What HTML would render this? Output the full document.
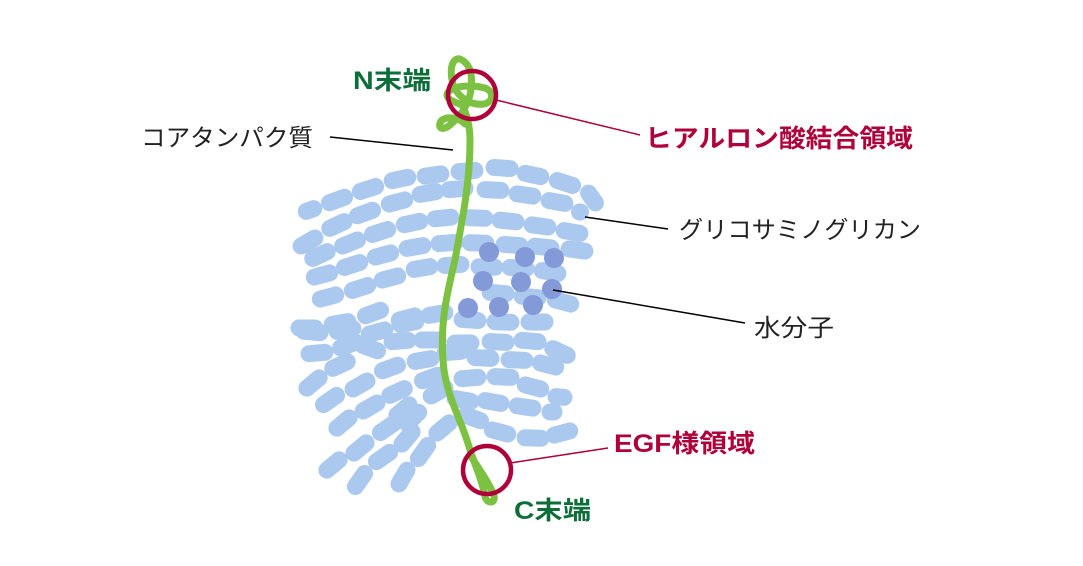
<!DOCTYPE html>
<html><head><meta charset="utf-8"><style>
html,body{margin:0;padding:0;background:#fff;}
svg{display:block}
text{font-family:"Liberation Sans","Noto Sans CJK JP",sans-serif;}
</style></head><body>
<svg width="1083" height="566" viewBox="0 0 1083 566" xmlns="http://www.w3.org/2000/svg">
<g stroke="#abc9ef" stroke-width="17" stroke-linecap="round" fill="none">
<line x1="-4" x2="4" transform="translate(310 210) rotate(-20)"/>
<line x1="-8" x2="8" transform="translate(337 200) rotate(-20)"/>
<line x1="-8" x2="8" transform="translate(368 189) rotate(-18)"/>
<line x1="-8" x2="8" transform="translate(400 179) rotate(-12)"/>
<line x1="-8" x2="8" transform="translate(433 175) rotate(-8)"/>
<line x1="-8" x2="8" transform="translate(467 171) rotate(-4)"/>
<line x1="-8" x2="8" transform="translate(502 168) rotate(4)"/>
<line x1="-8" x2="8" transform="translate(533 175) rotate(12)"/>
<line x1="-8" x2="8" transform="translate(565 183) rotate(18)"/>
<line x1="-6" x2="6" transform="translate(592 198) rotate(55)"/>
<line x1="-0.5" x2="0.5" transform="translate(580 212) rotate(0)"/>
<line x1="-8" x2="8" transform="translate(308 242) rotate(-30)"/>
<line x1="-8" x2="8" transform="translate(337 225) rotate(-25)"/>
<line x1="-8" x2="8" transform="translate(365 213) rotate(-20)"/>
<line x1="-8" x2="8" transform="translate(397 202) rotate(-15)"/>
<line x1="-8" x2="8" transform="translate(428 193) rotate(-10)"/>
<line x1="-8" x2="8" transform="translate(457 189) rotate(-5)"/>
<line x1="-8" x2="8" transform="translate(493 190) rotate(3)"/>
<line x1="-8" x2="8" transform="translate(525 195) rotate(8)"/>
<line x1="-8" x2="8" transform="translate(557 202) rotate(10)"/>
<line x1="-8" x2="8" transform="translate(320 255) rotate(-25)"/>
<line x1="-8" x2="8" transform="translate(350 243) rotate(-22)"/>
<line x1="-8" x2="8" transform="translate(380 232) rotate(-18)"/>
<line x1="-8" x2="8" transform="translate(412 223) rotate(-12)"/>
<line x1="-8" x2="8" transform="translate(443 218) rotate(-6)"/>
<line x1="-8" x2="8" transform="translate(477 218) rotate(2)"/>
<line x1="-8" x2="8" transform="translate(508 221) rotate(6)"/>
<line x1="-8" x2="8" transform="translate(540 226) rotate(8)"/>
<line x1="-8" x2="8" transform="translate(572 232) rotate(10)"/>
<line x1="-8" x2="8" transform="translate(322 275) rotate(-15)"/>
<line x1="-8" x2="8" transform="translate(352 265) rotate(-18)"/>
<line x1="-8" x2="8" transform="translate(383 255) rotate(-15)"/>
<line x1="-8" x2="8" transform="translate(415 247) rotate(-10)"/>
<line x1="-8" x2="8" transform="translate(447 243) rotate(-4)"/>
<line x1="-8" x2="8" transform="translate(478 243) rotate(2)"/>
<line x1="-8" x2="8" transform="translate(512 245) rotate(4)"/>
<line x1="-8" x2="8" transform="translate(543 247) rotate(6)"/>
<line x1="-8" x2="8" transform="translate(577 250) rotate(8)"/>
<line x1="-8" x2="8" transform="translate(328 297) rotate(-15)"/>
<line x1="-8" x2="8" transform="translate(360 288) rotate(-18)"/>
<line x1="-8" x2="8" transform="translate(390 278) rotate(-15)"/>
<line x1="-8" x2="8" transform="translate(422 268) rotate(-10)"/>
<line x1="-8" x2="8" transform="translate(453 265) rotate(-4)"/>
<line x1="-8" x2="8" transform="translate(487 267) rotate(2)"/>
<line x1="-8" x2="8" transform="translate(518 268) rotate(4)"/>
<line x1="-8" x2="8" transform="translate(550 272) rotate(10)"/>
<line x1="-8" x2="8" transform="translate(373 313) rotate(-20)"/>
<line x1="-8" x2="8" transform="translate(407 318) rotate(-15)"/>
<line x1="-8" x2="8" transform="translate(437 314) rotate(-10)"/>
<line x1="-8" x2="8" transform="translate(470 320) rotate(4)"/>
<line x1="-8" x2="8" transform="translate(503 322) rotate(2)"/>
<line x1="-8" x2="8" transform="translate(537 322) rotate(0)"/>
<line x1="-8" x2="8" transform="translate(498 293) rotate(5)"/>
<line x1="-8" x2="8" transform="translate(530 297) rotate(5)"/>
<line x1="-8" x2="8" transform="translate(563 302) rotate(15)"/>
<line x1="-8" x2="8" transform="translate(307 328) rotate(0)"/>
<line x1="-8" x2="8" transform="translate(340 323) rotate(-10)"/>
<line x1="-8" x2="8" transform="translate(312 332) rotate(5)"/>
<line x1="-8" x2="8" transform="translate(345 330) rotate(-10)"/>
<line x1="-8" x2="8" transform="translate(377 332) rotate(-15)"/>
<line x1="-8" x2="8" transform="translate(408 323) rotate(-10)"/>
<line x1="-8" x2="8" transform="translate(317 353) rotate(-5)"/>
<line x1="-8" x2="8" transform="translate(348 345) rotate(-20)"/>
<line x1="-8" x2="8" transform="translate(370 348) rotate(20)"/>
<line x1="-8" x2="8" transform="translate(400 341) rotate(-5)"/>
<line x1="-8" x2="8" transform="translate(430 340) rotate(0)"/>
<line x1="-8" x2="8" transform="translate(463 343) rotate(0)"/>
<line x1="-8" x2="8" transform="translate(498 342) rotate(3)"/>
<line x1="-8" x2="8" transform="translate(530 341) rotate(5)"/>
<line x1="-8" x2="8" transform="translate(560 352) rotate(25)"/>
<line x1="-8" x2="8" transform="translate(340 365) rotate(-25)"/>
<line x1="-8" x2="8" transform="translate(390 368) rotate(-20)"/>
<line x1="-8" x2="8" transform="translate(423 360) rotate(-10)"/>
<line x1="-8" x2="8" transform="translate(453 352) rotate(-5)"/>
<line x1="-8" x2="8" transform="translate(483 358) rotate(3)"/>
<line x1="-8" x2="8" transform="translate(517 360) rotate(3)"/>
<line x1="-8" x2="8" transform="translate(548 365) rotate(15)"/>
<line x1="-8" x2="8" transform="translate(313 383) rotate(-40)"/>
<line x1="-8" x2="8" transform="translate(360 385) rotate(-30)"/>
<line x1="-8" x2="8" transform="translate(397 392) rotate(-25)"/>
<line x1="-8" x2="8" transform="translate(430 378) rotate(-20)"/>
<line x1="-8" x2="8" transform="translate(470 378) rotate(-5)"/>
<line x1="-8" x2="8" transform="translate(503 377) rotate(3)"/>
<line x1="-8" x2="8" transform="translate(533 387) rotate(15)"/>
<line x1="-4" x2="4" transform="translate(560 397) rotate(5)"/>
<line x1="-8" x2="8" transform="translate(330 400) rotate(-35)"/>
<line x1="-8" x2="8" transform="translate(370 407) rotate(-30)"/>
<line x1="-8" x2="8" transform="translate(403 410) rotate(-40)"/>
<line x1="-8" x2="8" transform="translate(438 392) rotate(-30)"/>
<line x1="-8" x2="8" transform="translate(463 400) rotate(10)"/>
<line x1="-8" x2="8" transform="translate(493 402) rotate(10)"/>
<line x1="-8" x2="8" transform="translate(525 407) rotate(8)"/>
<line x1="-2" x2="2" transform="translate(552 412) rotate(0)"/>
<line x1="-8" x2="8" transform="translate(343 423) rotate(-40)"/>
<line x1="-8" x2="8" transform="translate(387 428) rotate(-35)"/>
<line x1="-8" x2="8" transform="translate(413 418) rotate(-45)"/>
<line x1="-8" x2="8" transform="translate(443 428) rotate(-40)"/>
<line x1="-8" x2="8" transform="translate(473 418) rotate(20)"/>
<line x1="-8" x2="8" transform="translate(500 432) rotate(15)"/>
<line x1="-8" x2="8" transform="translate(533 438) rotate(2)"/>
<line x1="-8" x2="8" transform="translate(562 433) rotate(-15)"/>
<line x1="-8" x2="8" transform="translate(333 465) rotate(-40)"/>
<line x1="-8" x2="8" transform="translate(360 448) rotate(-40)"/>
<line x1="-8" x2="8" transform="translate(383 457) rotate(-35)"/>
<line x1="-8" x2="8" transform="translate(407 438) rotate(-50)"/>
<line x1="-8" x2="8" transform="translate(423 452) rotate(-55)"/>
<line x1="-8" x2="8" transform="translate(360 480) rotate(-55)"/>
<line x1="-8" x2="8" transform="translate(403 477) rotate(-60)"/>
</g>
<g fill="#8399d8">
<circle cx="489" cy="252" r="10"/><circle cx="525" cy="257" r="10"/><circle cx="554" cy="258" r="10"/>
<circle cx="483" cy="281" r="10"/><circle cx="521" cy="282" r="10"/><circle cx="552" cy="289" r="10"/>
<circle cx="468" cy="308" r="10"/><circle cx="499" cy="307" r="10"/><circle cx="533" cy="305" r="10"/>
</g>
<g fill="none" stroke="#7dc142" stroke-width="7" stroke-linecap="round">
<path d="M472 458 C480 470 492 488 494 496 C496 504 486 504 485 496 C482 480 476 468 470 450 C462 420 445 395 443 360 C440 320 448 290 455 260 C462 220 470 185 470 140 C470 125 466 112 462 105 C455 102 447 100 447 95 C448 86 470 84 485 88 C495 92 493 102 484 104 C470 106 455 96 452 80 C449 62 456 56 462 60 C472 66 473 80 470 95 C466 110 458 118 450 125 C440 133 437 125 442 120 C448 116 460 118 465 124"/>
</g>
<g fill="none" stroke="#b0003a" stroke-width="4.5">
<circle cx="472" cy="95" r="24"/><circle cx="487" cy="470" r="24"/>
</g>
<g stroke="#b0003a" stroke-width="1.5">
<line x1="496" y1="100" x2="640" y2="135"/><line x1="510" y1="463" x2="608" y2="448"/>
</g>
<g stroke="#000" stroke-width="1.5">
<line x1="330" y1="137" x2="453" y2="150"/><line x1="585" y1="217" x2="668" y2="229"/><line x1="553" y1="290" x2="745" y2="323"/>
</g>
<g font-size="24" fill="#222">
<text x="141" y="146" textLength="172" lengthAdjust="spacingAndGlyphs">コアタンパク質</text>
<text x="679" y="238" textLength="242" lengthAdjust="spacingAndGlyphs">グリコサミノグリカン</text>
<text x="754" y="336" textLength="80" lengthAdjust="spacingAndGlyphs">水分子</text>
</g>
<g font-size="25" font-weight="bold" fill="#0d6e3a">
<text x="353" y="89" textLength="78" lengthAdjust="spacingAndGlyphs">N末端</text>
<text x="514" y="519" textLength="77" lengthAdjust="spacingAndGlyphs">C末端</text>
</g>
<g font-size="25" font-weight="bold" fill="#b0003a">
<text x="645" y="147" textLength="268" lengthAdjust="spacingAndGlyphs">ヒアルロン酸結合領域</text>
<text x="614" y="452" textLength="141" lengthAdjust="spacingAndGlyphs">EGF様領域</text>
</g>
</svg>
</body></html>
